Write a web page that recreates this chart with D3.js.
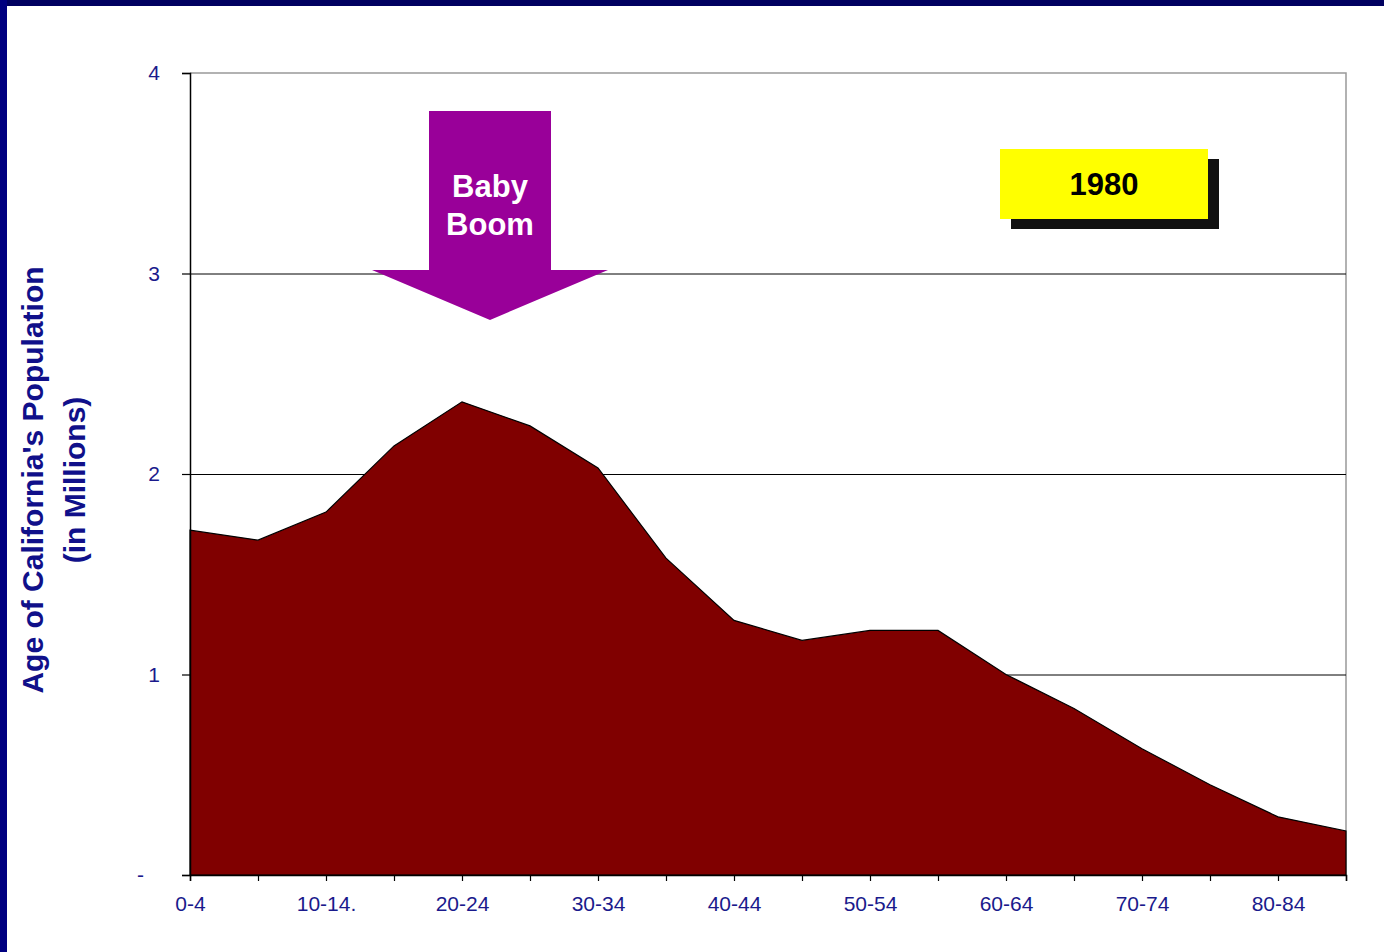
<!DOCTYPE html>
<html>
<head>
<meta charset="utf-8">
<script src="https://cdn.jsdelivr.net/npm/d3@7"></script>
<style>
  body { margin: 0; background: #fff; }
  text { font-family: "Liberation Sans", Arial, sans-serif; }
</style>
</head>
<body>
<script>
var width = 1384,
    height = 952;

// age groups (every other one is labelled on the axis)
var ageGroups = ["0-4", "5-9", "10-14.", "15-19", "20-24", "25-29", "30-34", "35-39", "40-44",
                 "45-49", "50-54", "55-59", "60-64", "65-69", "70-74", "75-79", "80-84", "85+"];
// population in millions, 1980
var population = [1.72, 1.67, 1.81, 2.14, 2.36, 2.24, 2.03, 1.58, 1.27,
                  1.17, 1.22, 1.22, 1.00, 0.83, 0.63, 0.45, 0.29, 0.22];
var yTicks = [0, 1, 2, 3, 4];
var yTickLabels = ["-", "1", "2", "3", "4"];

var margin = {left: 190, right: 38, top: 73, bottom: 77};

var svg = d3.select("body").append("svg")
    .attr("width", width)
    .attr("height", height);

svg.append("rect").attr("width", width).attr("height", height).attr("fill", "#fff");
// slide border
svg.append("rect").attr("x", 0).attr("y", 0).attr("width", width).attr("height", 6).attr("fill", "#000060");
svg.append("rect").attr("x", 0).attr("y", 0).attr("width", 7).attr("height", height).attr("fill", "#000080");

var x = d3.scalePoint()
    .domain(ageGroups)
    .range([margin.left, width - margin.right]);

var y = d3.scaleLinear()
    .domain([0, 4])
    .range([height - margin.bottom, margin.top]);

// plot frame (top and right)
svg.append("path")
    .attr("d", "M" + margin.left + "," + y(4) + "H" + (width - margin.right) + "V" + y(0))
    .attr("fill", "none")
    .attr("stroke", "#999")
    .attr("stroke-width", 1.5);

// gridlines
svg.selectAll("line.grid")
    .data([1, 2, 3])
    .enter().append("line")
    .attr("class", "grid")
    .attr("x1", margin.left)
    .attr("x2", width - margin.right)
    .attr("y1", function(d) { return y(d) + 0.5; })
    .attr("y2", function(d) { return y(d) + 0.5; })
    .attr("stroke", "#000")
    .attr("stroke-width", 1);

var area = d3.area()
    .x(function(d, i) { return x(ageGroups[i]); })
    .y0(y(0))
    .y1(function(d) { return y(d); });

svg.append("path")
    .datum(population)
    .attr("d", area)
    .attr("fill", "#800000")
    .attr("stroke", "#000")
    .attr("stroke-width", 1.2);

// y axis
var yAxis = svg.append("g")
    .attr("transform", "translate(" + margin.left + ",0)")
    .call(d3.axisLeft(y).tickValues(yTicks).tickSize(8).tickPadding(22)
        .tickFormat(function(d, i) { return yTickLabels[i]; }));

// x axis
var xAxis = svg.append("g")
    .attr("transform", "translate(0," + y(0) + ")")
    .call(d3.axisBottom(x).tickSize(6).tickPadding(15)
        .tickFormat(function(d, i) { return i % 2 === 0 ? d : ""; }));

[yAxis, xAxis].forEach(function(g) {
  g.select(".domain").attr("stroke", "#000").attr("stroke-width", 1.5);
  g.selectAll(".tick line").attr("stroke", "#000").attr("stroke-width", 1.2);
  g.selectAll("text")
    .attr("fill", "#1a1a8c")
    .style("font-size", "21px");
});
yAxis.selectAll("text").filter(function(d) { return d === 0; }).attr("dx", -16);

// y axis title
var title = svg.append("text")
    .attr("transform", "translate(54,480) rotate(-90)")
    .attr("text-anchor", "middle")
    .attr("fill", "#10108a")
    .style("font-size", "30px")
    .style("font-weight", "bold");
title.append("tspan").attr("x", 0).attr("dy", -11).text("Age of California's Population");
title.append("tspan").attr("x", 0).attr("dy", 42).text("(in Millions)");

// Baby Boom arrow
var ax = 490;
svg.append("path")
    .attr("d", "M" + (ax - 61) + ",111H" + (ax + 61) + "V270H" + (ax + 118) +
               "L" + ax + ",320L" + (ax - 118) + ",270H" + (ax - 61) + "Z")
    .attr("fill", "#990099");
var boom = svg.append("text")
    .attr("text-anchor", "middle")
    .attr("fill", "#fff")
    .style("font-size", "31px")
    .style("font-weight", "bold");
boom.append("tspan").attr("x", ax).attr("y", 197).text("Baby");
boom.append("tspan").attr("x", ax).attr("y", 235).text("Boom");

// 1980 label box
svg.append("rect").attr("x", 1011).attr("y", 159).attr("width", 208).attr("height", 70).attr("fill", "#111");
svg.append("rect").attr("x", 1000).attr("y", 149).attr("width", 208).attr("height", 70).attr("fill", "#ffff00");
svg.append("text")
    .attr("x", 1104)
    .attr("y", 195)
    .attr("text-anchor", "middle")
    .attr("fill", "#000")
    .style("font-size", "31px")
    .style("font-weight", "bold")
    .text("1980");
</script>
</body>
</html>
